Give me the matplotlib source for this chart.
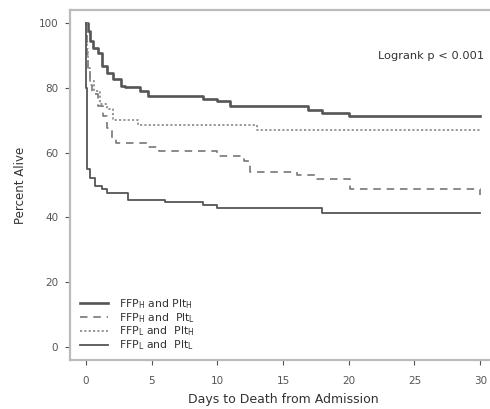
import matplotlib
matplotlib.use("Agg")
import matplotlib.pyplot as plt

plt.rcParams['font.family'] = ['DejaVu Sans']

# Data
t1 = [0, 0.15, 0.3, 0.55, 0.9, 1.2, 1.6, 2.1, 2.7, 3.0, 4.1, 4.7, 8.9, 10.0, 11.0, 16.9, 18.0, 20.0, 30]
s1 = [100, 97.5, 94.5, 92.3, 90.8, 86.8, 84.6, 82.8, 80.6, 80.3, 79, 77.4, 76.5, 75.8, 74.4, 73.2, 72.3, 71.4, 71.4]

t2 = [0, 0.1, 0.2, 0.35, 0.5, 0.9, 1.3, 1.6, 2.0, 2.3, 4.7, 5.6, 10.0, 12.0, 12.5, 16.1, 17.6, 20.1, 30]
s2 = [100, 90, 85, 81, 78, 74.5, 71.4, 67.7, 64.6, 63, 61.6, 60.4, 59, 57.5, 54, 53.2, 52, 48.9, 46.8]

t3 = [0, 0.1, 0.2, 0.35, 0.6, 1.07, 1.6, 2.1, 4.0, 13.0, 30]
s3 = [100, 92, 86, 82, 79, 75, 73.5, 70.2, 68.6, 67.1, 67.1]

t4 = [0, 0.03, 0.06, 0.1, 0.3, 0.7, 1.2, 1.6, 3.2, 6.0, 8.9, 10.0, 18.0, 30]
s4 = [100, 80, 62, 55, 52.3, 49.8, 48.9, 47.5, 45.5, 44.6, 43.8, 42.8, 41.5, 41.5]

labels = [r"FFP$_{\rm H}$ and Plt$_{\rm H}$",
          r"FFP$_{\rm H}$ and  Plt$_{\rm L}$",
          r"FFP$_{\rm L}$ and  Plt$_{\rm H}$",
          r"FFP$_{\rm L}$ and  Plt$_{\rm L}$"]

xticks = [0, 5, 10, 15, 20, 25, 30]
yticks = [0, 20, 40, 60, 80, 100]

fig = plt.figure(figsize=(4.9, 4.09), dpi=100)
ax = fig.add_axes([70/490, 1-360/409, 426/490, 350/409])

ax.plot(t1, s1, drawstyle='steps-post', color='#555555', lw=1.9, label=labels[0])
ax.plot(t2, s2, drawstyle='steps-post', color='#777777', lw=1.2, dashes=(4.5, 3.5), label=labels[1])
ax.plot(t3, s3, drawstyle='steps-post', color='#888888', lw=1.2, dashes=(1.3, 1.3), label=labels[2])
ax.plot(t4, s4, drawstyle='steps-post', color='#555555', lw=1.3, label=labels[3])

ax.set_xlim(-1.2, 31.2)
ax.set_ylim(-4, 104)
ax.set_xticks(xticks)
ax.set_yticks(yticks)
for sp in ax.spines.values():
    sp.set_color('#bbbbbb')
    sp.set_linewidth(1.6)
ax.tick_params(axis='both', colors='#555555', labelsize=7.5, length=3.5, width=0.8, direction='out')
ax.tick_params(axis='x', pad=8)
ax.tick_params(axis='y', pad=5)

ax.set_xlabel("Days to Death from Admission", fontsize=9, color='#333333', labelpad=5)
ax.set_ylabel("Percent Alive", fontsize=8.5, color='#333333', labelpad=8)

ax.text(22.2, 89.8, "Logrank p < 0.001", fontsize=8.2, color='#333333', ha='left', va='center')

leg = ax.legend(loc='lower left', bbox_to_anchor=(0.0235, 0.022), frameon=False,
                fontsize=7.8, handlelength=2.6, handletextpad=1.0, labelspacing=0.0,
                borderpad=0, borderaxespad=0)
for txt in leg.get_texts():
    txt.set_color('#333333')

fig.savefig("out.png", dpi=100)
